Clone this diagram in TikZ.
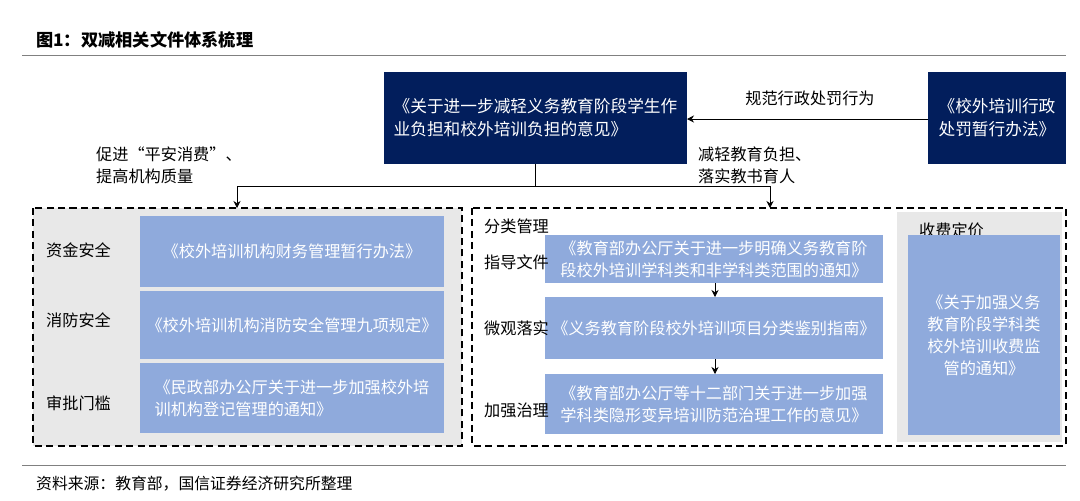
\documentclass[tikz,border=0pt]{standalone}
\usepackage{fontspec}
\setmainfont{Noto Sans CJK SC}
\usetikzlibrary{arrows.meta}
\definecolor{navy}{RGB}{2, 30, 92}
\definecolor{lblue}{RGB}{143, 170, 220}
\definecolor{pgray}{RGB}{232, 232, 232}
\tikzset{
  darkbox/.style={text=white, font=\fontsize{9.5}{13}\selectfont, align=left},
  bluebox/.style={text=white, font=\fontsize{9.2}{12.5}\selectfont, align=left},
  tag/.style={font=\fontsize{9.2}{12.5}\selectfont, anchor=west, align=left},
  framebox/.style={draw, very thick, dash pattern=on 4pt off 2.5pt},
  link/.style={-{Stealth[length=4pt,width=4pt]}, thin}
}
\begin{document}
\begin{tikzpicture}[x=0.02cm,y=-0.02cm]
\useasboundingbox (0,0) rectangle (1080,501);
% title and rules
\node[anchor=west, font=\fontsize{9.8}{12}\selectfont\bfseries] (title) at (30,40) {图1：双减相关文件体系梳理};
\draw[gray, thin] (22,55) -- (1066,55);
\draw[gray, thin] (22,465) -- (1066,465);
\node[anchor=west, font=\fontsize{9}{12}\selectfont] (src) at (30,484) {资料来源：教育部，国信证券经济研究所整理};

% top boxes
\path[fill=navy] (384,72) rectangle (687,164);
\node[darkbox] (main) at (535.5,118) {《关于进一步减轻义务教育阶段学生作\\业负担和校外培训负担的意见》};
\path[fill=navy] (928,72) rectangle (1066,164);
\node[darkbox] (pun) at (997,118) {《校外培训行政\\处罚暂行办法》};
\coordinate (punw) at (928,119);
\coordinate (mainw) at (687,119);
\draw[link] (punw) -- (mainw);
\node[font=\fontsize{9.2}{12}\selectfont] (lab1) at (810,98) {规范行政处罚行为};
\node[tag] (lab2) at (90,165) {促进“平安消费”、\\提高机构质量};
\node[tag] (lab3) at (692,165) {减轻教育负担、\\落实教书育人};

% connectors
\coordinate (ms) at (535,164);
\coordinate (mj) at (535,186);
\coordinate (lj) at (237,186);
\coordinate (rj) at (770,186);
\coordinate (lt) at (237,208);
\coordinate (rt) at (770,208);
\draw (ms) -- (mj);
\draw (lj) -- (rj);
\draw[link] (lj) -- (lt);
\draw[link] (rj) -- (rt);

% left frame
\path[fill=pgray] (33,208) rectangle (462,446);
\draw[framebox] (33,208) rectangle (462,446);
\path[fill=lblue] (140,216) rectangle (444,287);
\node[bluebox] (f1) at (292,251) {《校外培训机构财务管理暂行办法》};
\path[fill=lblue] (140,291) rectangle (444,359);
\node[bluebox] (f2) at (292,325) {《校外培训机构消防安全管理九项规定》};
\path[fill=lblue] (140,363) rectangle (444,433);
\node[bluebox] (f3) at (292,398) {《民政部办公厅关于进一步加强校外培\\训机构登记管理的通知》};
\node[tag] (t1) at (40,250) {资金安全};
\node[tag] (t2) at (40,320) {消防安全};
\node[tag] (t3) at (40,403) {审批门槛};

% right frame
\path[fill=pgray] (897,212) rectangle (1062,442);
\draw[framebox] (472,208) rectangle (1066,446);
\node[tag] (cls) at (478,226) {分类管理};
\path[fill=lblue] (545,235) rectangle (883,283);
\node[bluebox] (g1) at (714,259) {《教育部办公厅关于进一步明确义务教育阶\\段校外培训学科类和非学科类范围的通知》};
\path[fill=lblue] (545,297) rectangle (883,359);
\node[bluebox] (g2) at (714,328) {《义务教育阶段校外培训项目分类鉴别指南》};
\path[fill=lblue] (545,374) rectangle (883,434);
\node[bluebox] (g3) at (714,404) {《教育部办公厅等十二部门关于进一步加强\\学科类隐形变异培训防范治理工作的意见》};
\coordinate (a1) at (715,283);
\coordinate (a2) at (715,297);
\coordinate (b1) at (715,359);
\coordinate (b2) at (715,374);
\draw[link] (a1) -- (a2);
\draw[link] (b1) -- (b2);
\node[tag] (s1) at (478,262) {指导文件};
\node[tag] (s2) at (478,328) {微观落实};
\node[tag] (s3) at (478,410) {加强治理};
\node[tag] (fee) at (913,230) {收费定价};
\path[fill=lblue] (908,235) rectangle (1060,435);
\node[bluebox, align=center] (g4) at (984,335) {《关于加强义务\\教育阶段学科类\\校外培训收费监\\管的通知》};
\end{tikzpicture}
\end{document}
